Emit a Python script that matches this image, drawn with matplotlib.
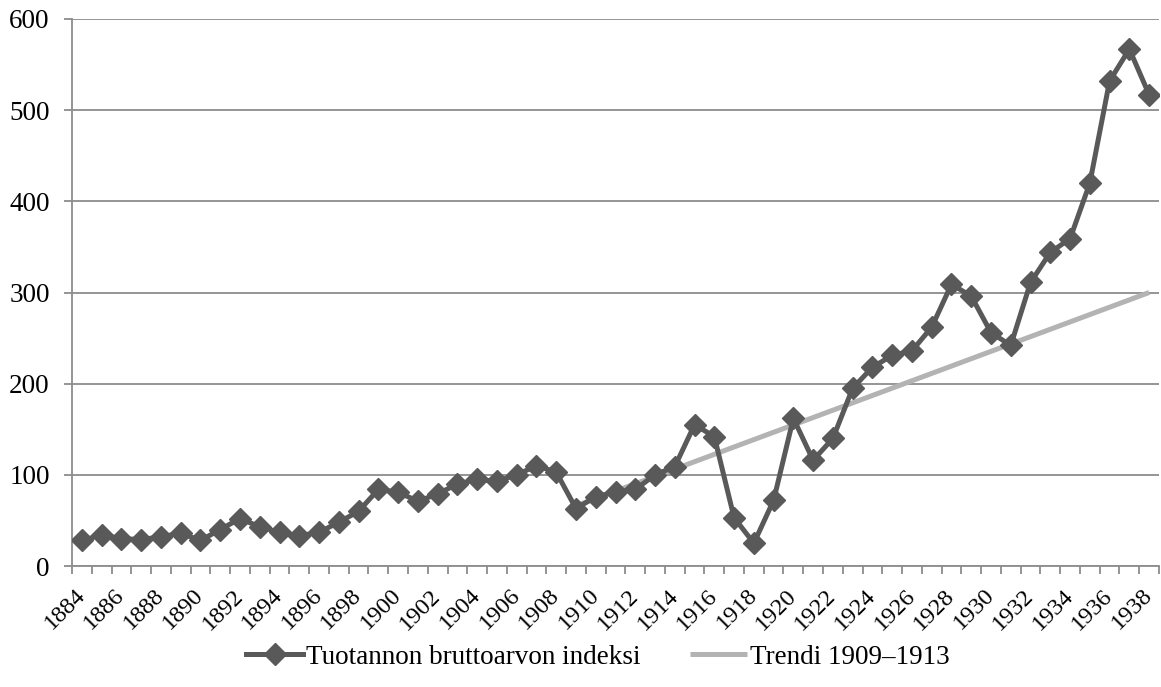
import matplotlib
matplotlib.use("Agg")
import matplotlib.pyplot as plt
import numpy as np

years = list(range(1884, 1939))
index_values = [28, 34, 30, 29, 32, 36, 28, 40, 52, 43,
                37, 33, 37, 48, 60, 84, 81, 71, 79, 90,
                95, 93, 100, 110, 103, 63, 76, 81, 84, 100,
                109, 155, 142, 53, 25, 72, 162, 116, 140, 195,
                218, 231, 236, 262, 309, 296, 256, 242, 311, 344,
                359, 420, 532, 567, 517]
trend_years = [1909, 1938]
trend_values = [66, 300]
tick_labels = [str(y) for y in range(1884, 1939, 2)]

plt.rcParams['font.family'] = ['Liberation Serif', 'DejaVu Serif']

fig = plt.figure(figsize=(11.61, 6.87), dpi=100)
ax = fig.add_axes([72/1161, 1-566/687, (1159-72)/1161, (566-19)/687])

line_col = '#595959'
trend_col = '#b3b3b3'
grid_col = '#8c8c8c'

ax.plot(trend_years, trend_values, color=trend_col, lw=3.6, solid_capstyle='butt',
        label='Trendi 1909–1913', zorder=2)
ax.plot(years, index_values, color=line_col, lw=3.6, marker='D', markersize=11.5,
        label='Tuotannon bruttoarvon indeksi', zorder=3)

ax.set_ylim(0, 600)
ax.set_xlim(1883.5, 1938.5)
ax.set_yticks(range(0, 601, 100))
ax.yaxis.grid(True, color=grid_col, lw=1.3)
ax.set_axisbelow(True)
for s in ['top', 'right']:
    ax.spines[s].set_visible(False)
for s in ['left', 'bottom']:
    ax.spines[s].set_color(grid_col)
    ax.spines[s].set_linewidth(1.3)

ax.set_xticks(range(1884, 1939, 2))
ax.set_xticklabels(tick_labels, rotation=45, ha='right', va='center', rotation_mode='anchor')
ax.set_xticks(np.arange(1883.5, 1939, 1), minor=True)
ax.tick_params(axis='x', which='major', length=0, labelsize=17.5, pad=19)
ax.tick_params(axis='x', which='minor', length=6, color=grid_col, width=1.3)
ax.tick_params(axis='y', length=6, color=grid_col, width=1.3, labelsize=19.5, pad=10)

handles, labels = ax.get_legend_handles_labels()
fig.legend(handles[::-1], labels[::-1], loc='center', bbox_to_anchor=(598/1161, 1-657/687),
           ncol=2, frameon=False, fontsize=19.5, handlelength=2.1, columnspacing=1.85,
           handletextpad=0.1, borderaxespad=0, borderpad=0)

fig.savefig('out.png', dpi=100)
